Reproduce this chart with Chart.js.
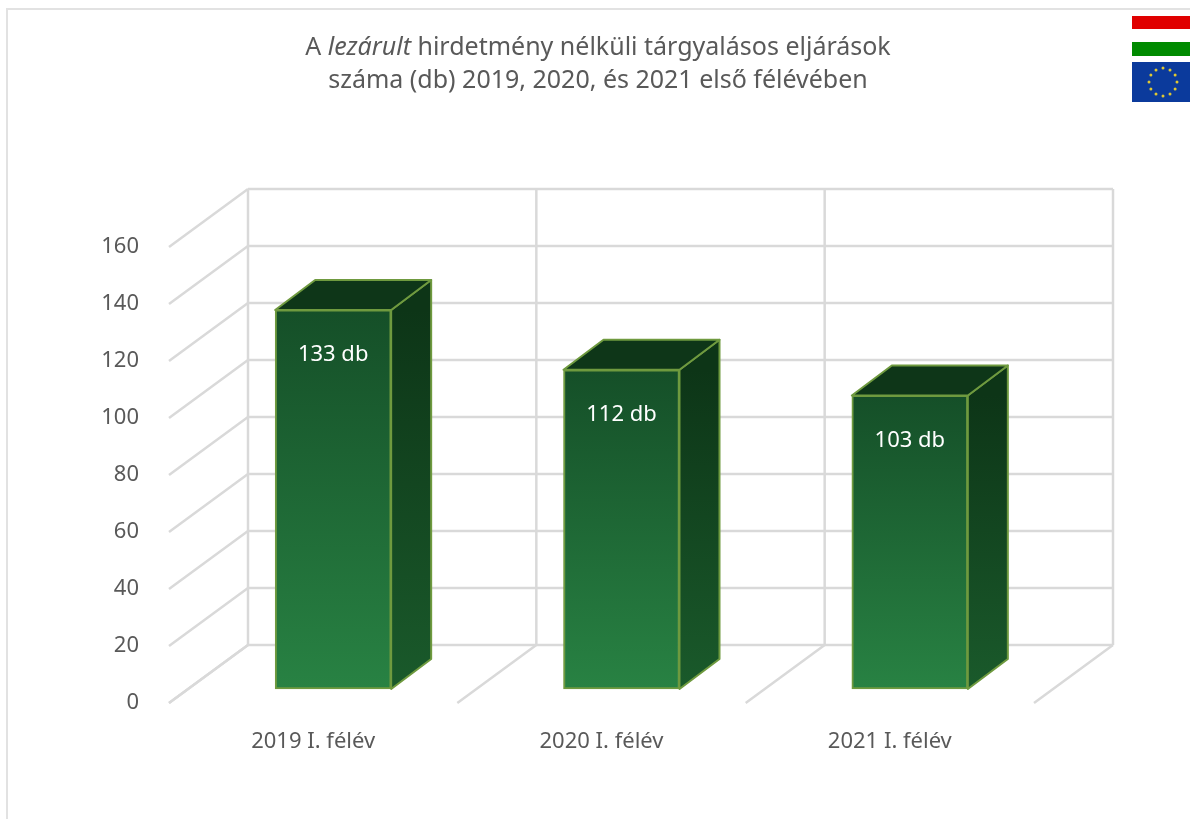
<!DOCTYPE html>
<html lang="hu">
<head>
<meta charset="utf-8">
<title>Hirdetmény nélküli tárgyalásos eljárások</title>
<script src="https://cdn.jsdelivr.net/npm/chart.js@4/dist/chart.umd.min.js"></script>
<style>
  html, body { margin:0; padding:0; background:#fff; overflow:hidden; }
  #wrap { position:relative; width:1190px; height:819px; }
  #frame { position:absolute; left:6px; top:8px; right:0; bottom:0; border-top:2px solid #e2e2e2; border-left:2px solid #e2e2e2; }
  #chartBox { position:absolute; left:0; top:0; width:1190px; height:819px; }
  #title { position:absolute; left:198px; top:29px; width:800px; text-align:center; color:#595959;
           font:25px/33px "Noto Sans", sans-serif; }
  #flags { position:absolute; left:1132px; top:16px; }
</style>
</head>
<body>
<div id="wrap">
  <div id="frame"></div>
  <div id="chartBox"><canvas id="procChart"></canvas></div>
  <div id="title">A <em>lezárult</em> hirdetmény nélküli tárgyalásos eljárások<br>száma (db) 2019, 2020, és 2021 első félévében</div>
  <svg id="flags" width="58" height="86"></svg>
</div>
<script>
const categories = ["2019 I. félév", "2020 I. félév", "2021 I. félév"];
const procedures = [133, 112, 103];
const unit = "db";

const wallDx = 79, wallDy = -58;    // floor depth
const barDx = 20, barDy = -14;      // where the bar front stands on the floor
const sideDx = 40, sideDy = -30;    // bar depth
const gridColor = "#d9d9d9";
const textColor = "#595959";
const edgeColor = "#6f9a3f";
const textFont = '"Noto Sans", sans-serif';

function line(ctx, x1, y1, x2, y2) {
  ctx.beginPath();
  ctx.moveTo(x1, y1);
  ctx.lineTo(x2, y2);
  ctx.stroke();
}

function poly(ctx, pts, fill) {
  ctx.beginPath();
  pts.forEach((p, i) => i ? ctx.lineTo(p[0], p[1]) : ctx.moveTo(p[0], p[1]));
  ctx.closePath();
  ctx.fillStyle = fill;
  ctx.fill();
  ctx.strokeStyle = edgeColor;
  ctx.lineWidth = 2;
  ctx.lineJoin = "round";
  ctx.stroke();
}

// walls and floor of the 3d box, taken from the scales
const wallsPlugin = {
  id: "walls",
  beforeDatasetsDraw(chart) {
    const { ctx, chartArea: a, scales: { x, y } } = chart;
    ctx.save();
    ctx.strokeStyle = gridColor;
    ctx.lineWidth = 2.5;
    y.ticks.forEach(t => {
      const py = y.getPixelForValue(t.value);
      line(ctx, a.left, py, a.left + wallDx, py + wallDy);
    });
    y.ticks.forEach(t => {
      const py = y.getPixelForValue(t.value) + wallDy;
      line(ctx, a.left + wallDx, py, a.right + wallDx, py);
    });
    const step = x.width / categories.length;
    for (let i = 0; i <= categories.length; i++) {
      const px = a.left + i * step;
      line(ctx, px, a.bottom, px + wallDx, a.bottom + wallDy);
      line(ctx, px + wallDx, a.bottom + wallDy, px + wallDx, a.top + wallDy);
    }
    ctx.restore();

    // bars stand in the middle of the floor
    ctx.save();
    ctx.translate(barDx, barDy);
  },
  afterDatasetsDraw(chart) {
    const { ctx, scales: { y } } = chart;
    chart.getDatasetMeta(0).data.forEach((bar, i) => {
      const l = bar.x - bar.width / 2, r = bar.x + bar.width / 2;
      const side = ctx.createLinearGradient(0, bar.y, 0, y.getPixelForValue(0));
      side.addColorStop(0, "#0d3517");
      side.addColorStop(1, "#1a5a2b");
      poly(ctx, [[r, bar.y], [r + sideDx, bar.y + sideDy], [r + sideDx, bar.base + sideDy], [r, bar.base]], side);
      poly(ctx, [[l, bar.y], [l + sideDx, bar.y + sideDy], [r + sideDx, bar.y + sideDy], [r, bar.y]], "#0e3618");
      ctx.fillStyle = "#fff";
      ctx.font = "22px " + textFont;
      ctx.textAlign = "center";
      ctx.textBaseline = "middle";
      ctx.fillText(procedures[i] + " " + unit, bar.x, bar.y + 45);
    });
    ctx.restore();
  }
};

new Chart(document.getElementById("procChart"), {
  type: "bar",
  data: {
    labels: categories,
    datasets: [{
      label: "Lezárult eljárások (db)",
      data: procedures,
      barThickness: 116,
      borderWidth: 2,
      borderColor: edgeColor,
      borderSkipped: false,
      clip: false,
      backgroundColor: c => {
        const y = c.chart.scales.y;
        const top = c.parsed && y ? y.getPixelForValue(c.parsed.y) : NaN;
        if (!Number.isFinite(top)) return "#1f6b35";
        const g = c.chart.ctx.createLinearGradient(0, top, 0, y.getPixelForValue(0));
        g.addColorStop(0, "#154f28");
        g.addColorStop(1, "#288243");
        return g;
      }
    }]
  },
  options: {
    responsive: true,
    maintainAspectRatio: false,
    animation: false,
    layout: { padding: { top: 247, right: 156 } },
    plugins: { legend: { display: false }, tooltip: { enabled: false } },
    scales: {
      x: {
        afterFit: s => { s.height = 116; },
        grid: { display: false },
        border: { display: false },
        ticks: { color: textColor, padding: 18, font: { family: textFont, size: 22 } }
      },
      y: {
        min: 0,
        max: 160,
        afterFit: s => { s.width = 169; },
        grid: { display: false },
        border: { display: false },
        ticks: { stepSize: 20, color: textColor, padding: 22, font: { family: textFont, size: 22 } }
      }
    }
  },
  plugins: [wallsPlugin]
});

// flags in the corner
const svg = document.getElementById("flags");
let flagHtml =
  '<rect x="0" y="0" width="58" height="13" fill="#e00000"/>' +
  '<rect x="0" y="13" width="58" height="13" fill="#ffffff"/>' +
  '<rect x="0" y="26" width="58" height="14" fill="#008a00"/>' +
  '<rect x="0" y="46" width="58" height="40" fill="#0b3a9c"/>';
for (let i = 0; i < 12; i++) {
  const a = i * Math.PI / 6;
  flagHtml += `<circle cx="${31 + 14 * Math.cos(a)}" cy="${66 + 14 * Math.sin(a)}" r="1.5" fill="#e0c832"/>`;
}
svg.innerHTML = flagHtml;
</script>
</body>
</html>
